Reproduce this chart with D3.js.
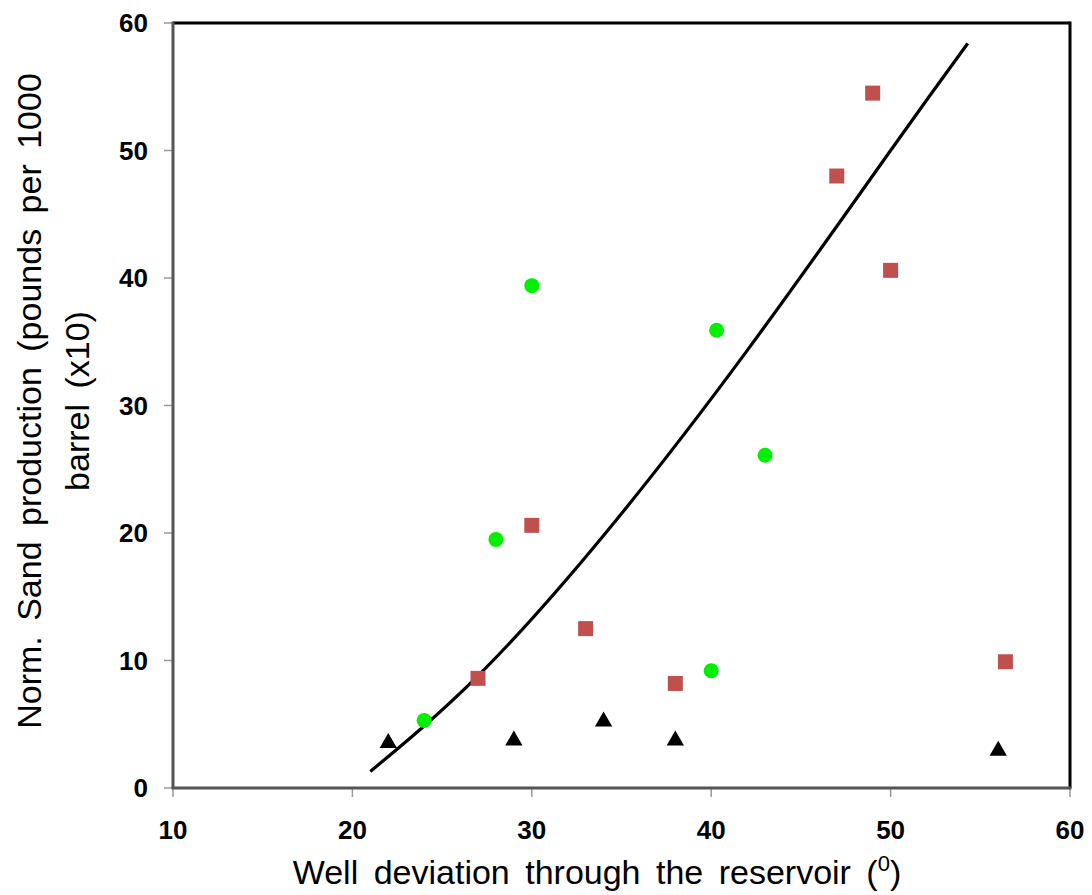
<!DOCTYPE html>
<html>
<head>
<meta charset="utf-8">
<script src="https://cdn.jsdelivr.net/npm/d3@7"></script>
<style>
  body { margin: 0; background: #fff; }
  text { font-family: "Liberation Sans", Arial, sans-serif; }
</style>
</head>
<body>
<svg id="chart"></svg>
<script>
// squares (red)
const squareX = [27, 30, 33, 38, 47, 49, 50, 56.4];
const squareY = [8.6, 20.6, 12.5, 8.2, 48.0, 54.5, 40.6, 9.9];
// circles (green)
const circleX = [24, 28, 30, 40.3, 43, 40];
const circleY = [5.3, 19.5, 39.4, 35.9, 26.1, 9.2];
// triangles (black)
const triX = [22, 29, 34, 38, 56];
const triY = [3.6, 3.8, 5.3, 3.8, 3.0];
// trend line
const trendX = [21.0, 27, 34, 42, 50, 54.3];
const trendY = [1.3, 8.8, 19.8, 34.3, 50.0, 58.4];

const xTicks = [10, 20, 30, 40, 50, 60];
const yTicks = [0, 10, 20, 30, 40, 50, 60];

const width = 1092, height = 895;
const svg = d3.select("#chart").attr("width", width).attr("height", height);

const x = d3.scaleLinear().domain([10, 60]).range([173, 1070]);
const y = d3.scaleLinear().domain([0, 60]).range([788, 23]);

// plot frame: top and right black, left and bottom grey axes
svg.append("line").attr("x1", x(10)).attr("x2", x(60)).attr("y1", y(60)).attr("y2", y(60))
    .attr("stroke", "#000").attr("stroke-width", 3);
svg.append("line").attr("x1", x(60)).attr("x2", x(60)).attr("y1", y(60) - 1.5).attr("y2", y(0))
    .attr("stroke", "#000").attr("stroke-width", 3);

// ticks
svg.selectAll(".ytick").data(yTicks).enter().append("line")
    .attr("x1", x(10) - 9).attr("x2", x(10)).attr("y1", d => y(d)).attr("y2", d => y(d))
    .attr("stroke", "#999").attr("stroke-width", 1.5);
svg.selectAll(".xtick").data(xTicks).enter().append("line")
    .attr("x1", d => x(d)).attr("x2", d => x(d)).attr("y1", y(0)).attr("y2", y(0) + 9)
    .attr("stroke", "#999").attr("stroke-width", 1.5);

svg.append("line").attr("x1", x(10)).attr("x2", x(10)).attr("y1", y(60) - 1.5).attr("y2", y(0))
    .attr("stroke", "#555").attr("stroke-width", 3);
svg.append("line").attr("x1", x(10) - 1.5).attr("x2", x(60) + 1.5).attr("y1", y(0)).attr("y2", y(0))
    .attr("stroke", "#555").attr("stroke-width", 3);

// tick labels
svg.selectAll(".ylab").data(yTicks).enter().append("text")
    .attr("x", 148).attr("y", d => y(d)).attr("dy", "0.36em")
    .attr("text-anchor", "end").attr("font-size", 26).attr("font-weight", "bold")
    .text(d => d);
svg.selectAll(".xlab").data(xTicks).enter().append("text")
    .attr("x", d => x(d)).attr("y", 839)
    .attr("text-anchor", "middle").attr("font-size", 26).attr("font-weight", "bold")
    .text(d => d);

// axis titles
const xt = svg.append("text").attr("x", 597).attr("y", 884).attr("text-anchor", "middle")
    .attr("font-size", 34).attr("word-spacing", 6);
xt.append("tspan").text("Well deviation through the reservoir (");
xt.append("tspan").attr("font-size", 22).attr("dy", -13).text("0");
xt.append("tspan").attr("dy", 13).text(")");

const yt = svg.append("text").attr("transform", "translate(41,401) rotate(-90)")
    .attr("text-anchor", "middle").attr("font-size", 34).attr("word-spacing", 6);
yt.append("tspan").attr("x", 0).attr("y", 0).text("Norm. Sand production (pounds per 1000");
yt.append("tspan").attr("x", 0).attr("y", 48).text("barrel (x10)");

// trend line
const line = d3.line().x(d => x(d[0])).y(d => y(d[1])).curve(d3.curveNatural);
svg.append("path").datum(trendX.map((v, i) => [v, trendY[i]]))
    .attr("d", line).attr("fill", "none").attr("stroke", "#000").attr("stroke-width", 3.2);

// markers
svg.selectAll(".sq").data(squareX.map((v, i) => [v, squareY[i]])).enter().append("rect")
    .attr("x", d => x(d[0]) - 7.5).attr("y", d => y(d[1]) - 7.5)
    .attr("width", 15).attr("height", 15).attr("fill", "#C0504D");
svg.selectAll(".ci").data(circleX.map((v, i) => [v, circleY[i]])).enter().append("circle")
    .attr("cx", d => x(d[0])).attr("cy", d => y(d[1])).attr("r", 7.5).attr("fill", "#00F000");
const tri = d3.symbol().type(d3.symbolTriangle).size(130);
svg.selectAll(".tr").data(triX.map((v, i) => [v, triY[i]])).enter().append("path")
    .attr("d", tri).attr("transform", d => `translate(${x(d[0])},${y(d[1]) + 1})`).attr("fill", "#000");
</script>
</body>
</html>
